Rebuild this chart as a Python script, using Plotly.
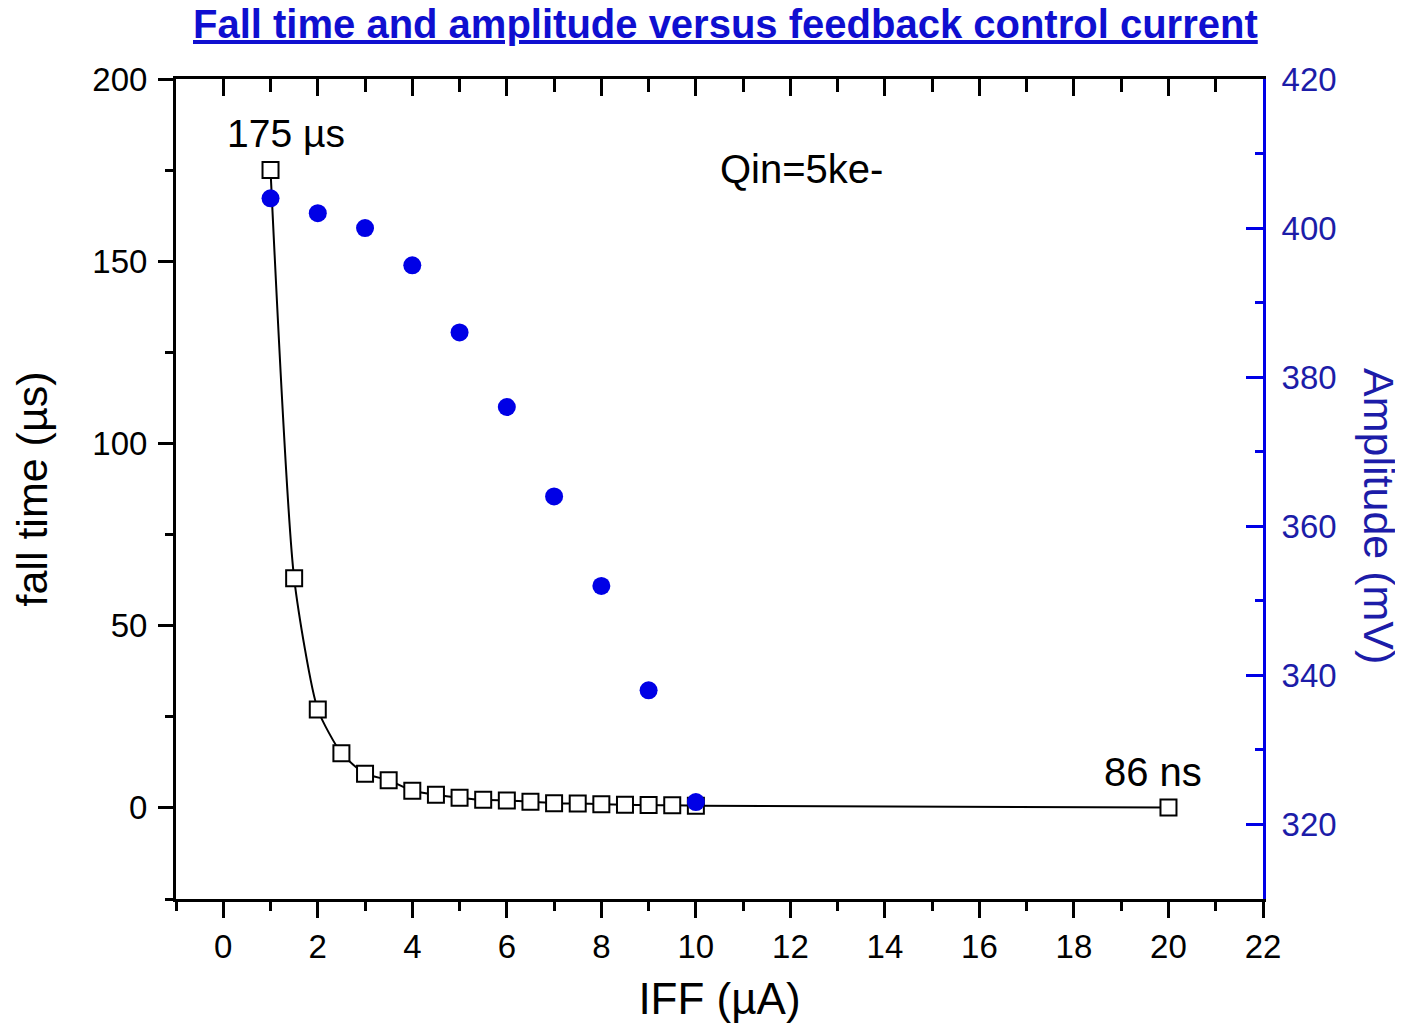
import plotly.graph_objects as go

# fall time vs feedback current
iff_fall = [1, 1.5, 2, 2.5, 3, 3.5, 4, 4.5, 5, 5.5, 6, 6.5, 7, 7.5, 8, 8.5, 9, 9.5, 10, 20]
fall_time = [175, 63, 27, 15, 9.4, 7.6, 4.7, 3.6, 2.8, 2.2, 2.0, 1.7, 1.3, 1.2, 1.0, 0.85, 0.8, 0.7, 0.6, 0.086]

# amplitude vs feedback current
iff_amp = [1, 2, 3, 4, 5, 6, 7, 8, 9, 10]
amplitude = [404, 402, 400, 395, 386, 376, 364, 352, 338, 323]

FONT = "Liberation Sans, Arial, sans-serif"
BLUE = "#0000e6"
BLUE_TXT = "#1c1ca8"

fig = go.Figure()

fig.add_trace(go.Scatter(
    x=iff_fall, y=fall_time, mode="lines+markers",
    line=dict(color="black", width=2, shape="spline", smoothing=0.6),
    marker=dict(symbol="square", size=16, color="white", line=dict(color="black", width=2)),
    xaxis="x", yaxis="y", showlegend=False,
))

fig.add_trace(go.Scatter(
    x=iff_amp, y=amplitude, mode="markers",
    marker=dict(symbol="circle", size=18, color=BLUE),
    xaxis="x2", yaxis="y2", showlegend=False,
))

tick_font = dict(family=FONT, size=33, color="black")

# page body has a small margin, so the figure is a bit smaller than the window
fig.update_layout(
    width=1396, height=1025,
    margin=dict(l=168, r=141, t=71, b=134),
    paper_bgcolor="white", plot_bgcolor="white",
    xaxis=dict(
        range=[-1, 22], dtick=2, tick0=0, showgrid=False, zeroline=False,
        showline=True, linecolor="black", linewidth=3,
        ticks="outside", ticklen=16, tickwidth=3, tickcolor="black",
        minor=dict(ticks="outside", ticklen=9, tickwidth=3, dtick=1, tickcolor="black"),
        tickfont=tick_font,
        title=dict(text="IFF (µA)", font=dict(family=FONT, size=44, color="black"), standoff=20),
        automargin=False,
    ),
    xaxis2=dict(
        range=[-1, 22], dtick=2, tick0=0, overlaying="x", side="top", anchor="y",
        showgrid=False, zeroline=False, showticklabels=False,
        showline=True, linecolor="black", linewidth=3,
        ticks="inside", ticklen=17, tickwidth=3, tickcolor="black",
        minor=dict(ticks="inside", ticklen=13, tickwidth=3, dtick=1, tickcolor="black"),
        automargin=False,
    ),
    yaxis=dict(
        range=[-25, 200], dtick=50, tick0=0, showgrid=False, zeroline=False,
        showline=True, linecolor="black", linewidth=3,
        ticks="outside", ticklen=15, tickwidth=3, tickcolor="black",
        minor=dict(ticks="outside", ticklen=8, tickwidth=3, dtick=25, tickcolor="black"),
        tickfont=tick_font, ticklabelstandoff=4,
        title=dict(text="fall time (µs)", font=dict(family=FONT, size=43, color="black"), standoff=36),
        automargin=False,
    ),
    yaxis2=dict(
        range=[310, 420], dtick=20, tick0=320, overlaying="y", side="right", anchor="x",
        showgrid=False, zeroline=False,
        showline=True, linecolor=BLUE, linewidth=3,
        ticks="inside", ticklen=17, tickwidth=3, tickcolor=BLUE,
        minor=dict(ticks="inside", ticklen=8, tickwidth=3, dtick=10, tickcolor=BLUE),
        tickfont=dict(family=FONT, size=33, color=BLUE_TXT), ticklabelstandoff=9,
        automargin=False,
    ),
)

# title as an annotation above the plot area
fig.add_annotation(
    text="<b>Fall time and amplitude versus feedback control current</b>",
    showarrow=False, xref="paper", yref="paper",
    x=(717 - 168) / 1087, y=1 + (71 - 16) / 820,
    xanchor="center", yanchor="middle",
    font=dict(family=FONT, size=40, color="#0f0fd0", lineposition="under"),
)

# right axis title reads top-to-bottom
fig.add_annotation(
    text="Amplitude (mV)", textangle=90, showarrow=False,
    xref="paper", yref="paper", x=(1371 - 168) / 1087, y=(891 - 508) / 820,
    xanchor="center", yanchor="middle",
    font=dict(family=FONT, size=43, color=BLUE_TXT),
)

fig.add_annotation(text="175 µs", x=1.33, y=185, xref="x", yref="y", showarrow=False,
                   font=dict(family=FONT, size=39, color="black"))
fig.add_annotation(text="Qin=5ke-", x=12.23, y=175.3, xref="x", yref="y", showarrow=False,
                   font=dict(family=FONT, size=40, color="black"))
fig.add_annotation(text="86 ns", x=19.67, y=9.9, xref="x", yref="y", showarrow=False,
                   font=dict(family=FONT, size=40, color="black"))

fig.write_html("out.html")
